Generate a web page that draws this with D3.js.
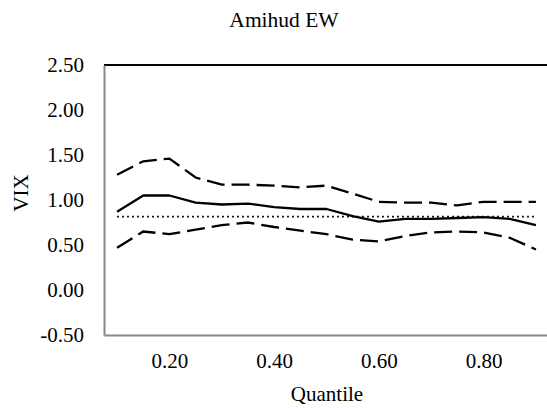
<!DOCTYPE html>
<html>
<head>
<meta charset="utf-8">
<script src="https://cdn.jsdelivr.net/npm/d3@7"></script>
<style>
  body { margin: 0; background: #fff; }
  text { font-family: "Liberation Serif", "Times New Roman", serif; fill: #000; }
</style>
</head>
<body>
<div id="chart"></div>
<script>
// quantiles on the category axis
const quantiles = [0.10, 0.15, 0.20, 0.25, 0.30, 0.35, 0.40, 0.45, 0.50,
                   0.55, 0.60, 0.65, 0.70, 0.75, 0.80, 0.85, 0.90];
const xTickLabels = ["0.20", "0.40", "0.60", "0.80"];
const yTicks = [-0.5, 0, 0.5, 1, 1.5, 2, 2.5];

// series
const estimate = [0.87, 1.05, 1.05, 0.97, 0.95, 0.96, 0.92, 0.90, 0.90,
                  0.82, 0.76, 0.79, 0.79, 0.80, 0.81, 0.79, 0.72];
const upper    = [1.28, 1.43, 1.46, 1.25, 1.17, 1.17, 1.16, 1.14, 1.16,
                  1.07, 0.98, 0.97, 0.97, 0.94, 0.98, 0.98, 0.98];
const lower    = [0.47, 0.65, 0.62, 0.67, 0.72, 0.75, 0.70, 0.66, 0.62,
                  0.56, 0.54, 0.60, 0.64, 0.65, 0.64, 0.58, 0.45];
const ols      = [0.815, 0.815, 0.815, 0.815, 0.815, 0.815, 0.815, 0.815, 0.815,
                  0.815, 0.815, 0.815, 0.815, 0.815, 0.815, 0.815, 0.815];

const width = 547;
const height = 409;
const margin = { top: 65, right: -2, bottom: 74, left: 104 };
const fontSize = "21px";

const svg = d3.select("#chart")
    .append("svg")
    .attr("width", width)
    .attr("height", height);

const xScale = d3.scalePoint()
    .domain(quantiles.map(d => d.toFixed(2)))
    .range([margin.left, width - margin.right])
    .padding(0.5);

const yScale = d3.scaleLinear()
    .domain([-0.5, 2.5])
    .range([height - margin.bottom, margin.top]);

// plot frame: black top, grey left and bottom
svg.append("line")
    .attr("x1", margin.left).attr("x2", width)
    .attr("y1", yScale(2.5)).attr("y2", yScale(2.5))
    .attr("stroke", "#000").attr("stroke-width", 2);

// Y axis
const yAxis = svg.append("g")
    .attr("transform", `translate(${margin.left},0)`)
    .call(d3.axisLeft(yScale).tickValues(yTicks).tickSize(0).tickPadding(20)
        .tickFormat(d => d3.format(".2f")(d).replace("\u2212", "-")));
yAxis.select(".domain").attr("stroke", "#888").attr("stroke-width", 2);
yAxis.selectAll("text")
    .style("font-family", "Liberation Serif")
    .style("font-size", fontSize);

// X axis
const xAxis = svg.append("g")
    .attr("transform", `translate(0,${yScale(-0.5)})`)
    .call(d3.axisBottom(xScale).tickValues(xTickLabels).tickSize(0).tickPadding(18));
xAxis.select(".domain").attr("stroke", "#888").attr("stroke-width", 2);
xAxis.selectAll("text")
    .style("font-family", "Liberation Serif")
    .style("font-size", fontSize);

const line = d3.line()
    .x((d, i) => xScale(quantiles[i].toFixed(2)))
    .y(d => yScale(d));

// dotted reference line
svg.append("path")
    .datum(ols)
    .attr("d", line)
    .attr("fill", "none")
    .attr("stroke", "#000")
    .attr("stroke-width", 1.8)
    .attr("stroke-dasharray", "1.8,3.2");

// confidence bands
[upper, lower].forEach(s => {
    svg.append("path")
        .datum(s)
        .attr("d", line)
        .attr("fill", "none")
        .attr("stroke", "#000")
        .attr("stroke-width", 2.3)
        .attr("stroke-dasharray", "18,7");
});

// estimate
svg.append("path")
    .datum(estimate)
    .attr("d", line)
    .attr("fill", "none")
    .attr("stroke", "#000")
    .attr("stroke-width", 2.3)
    .attr("stroke-linejoin", "round");

// Chart Title
svg.append("text")
    .attr("x", 284)
    .attr("y", 27)
    .attr("text-anchor", "middle")
    .style("font-size", "21.5px")
    .text("Amihud EW");

// axis labels
svg.append("text")
    .attr("x", 327)
    .attr("y", 401)
    .attr("text-anchor", "middle")
    .style("font-size", fontSize)
    .text("Quantile");

svg.append("text")
    .attr("x", -193)
    .attr("y", 28)
    .attr("transform", "rotate(-90)")
    .attr("text-anchor", "middle")
    .style("font-size", fontSize)
    .text("VIX");
</script>
</body>
</html>
